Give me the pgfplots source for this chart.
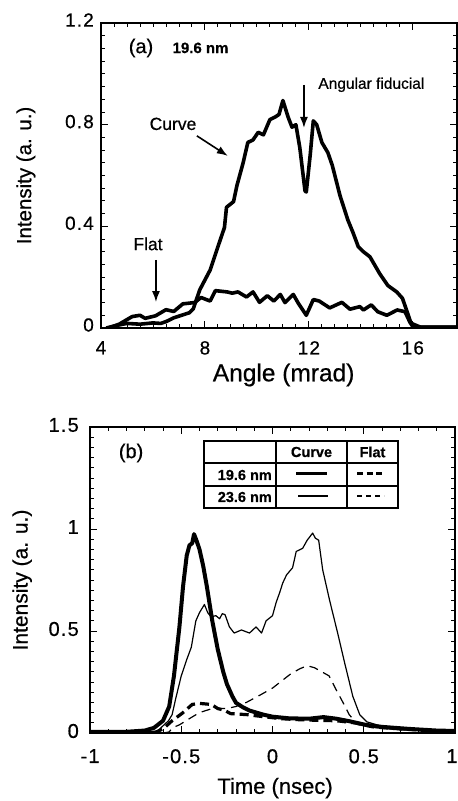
\documentclass[border=0pt]{standalone}
\usepackage{fontspec}
\setmainfont{Liberation Sans}[FakeBold=0.6]
\newfontfamily\widesans{Liberation Sans}[LetterSpace=6,FakeBold=0.6]
\newcommand\ta{\widesans\fontsize{19}{22}\selectfont}
\newcommand\tb{\widesans\fontsize{20}{24}\selectfont}
\usepackage{pgfplots}
\pgfplotsset{compat=1.18}
\usetikzlibrary{arrows.meta}

\pgfplotstableread{
x y
4.2 0.0
4.6 0.01
5.0 0.018
5.5 0.015
6.0 0.02
6.3 0.018
6.5 0.025
6.8 0.04
7.1 0.05
7.4 0.06
7.55 0.075
7.8 0.15
8.2 0.228
8.5 0.32
8.75 0.395
8.83 0.475
9.1 0.497
9.23 0.56
9.47 0.65
9.65 0.73
9.85 0.74
10.05 0.77
10.25 0.76
10.5 0.82
10.7 0.83
10.85 0.84
11.0 0.895
11.2 0.83
11.35 0.79
11.5 0.80
11.65 0.71
11.85 0.54
11.9 0.535
12.05 0.68
12.17 0.815
12.3 0.80
12.5 0.73
12.73 0.69
12.9 0.64
13.2 0.52
13.5 0.425
13.7 0.375
13.9 0.32
14.1 0.30
14.35 0.28
14.73 0.213
15.04 0.167
15.38 0.142
15.6 0.117
15.8 0.058
15.96 0.01
16.2 0.003
17.7 0.003
}\curveA

\pgfplotstableread{
x y
4.3 0.0
4.7 0.015
5.2 0.045
5.5 0.05
5.7 0.038
6.1 0.048
6.5 0.072
6.8 0.065
7.15 0.095
7.6 0.1
7.85 0.12
8.2 0.106
8.4 0.147
8.85 0.142
9.05 0.137
9.27 0.142
9.6 0.122
9.85 0.142
10.1 0.101
10.4 0.127
10.65 0.106
10.9 0.132
11.08 0.1
11.4 0.132
11.6 0.096
11.9 0.05
12.17 0.112
12.4 0.106
12.8 0.079
13.27 0.101
13.58 0.074
13.96 0.084
14.1 0.071
14.4 0.091
14.65 0.064
15.0 0.05
15.4 0.071
15.7 0.064
15.9 0.02
16.3 0.003
17.7 0.003
}\flatA

\pgfplotstableread{
x y
-1 0.005
-0.8 0.006
-0.7 0.012
-0.65 0.025
-0.6 0.06
-0.566 0.13
-0.54 0.28
-0.51 0.52
-0.49 0.72
-0.47 0.87
-0.455 0.92
-0.44 0.93
-0.43 0.975
-0.415 0.94
-0.40 0.90
-0.38 0.82
-0.36 0.72
-0.33 0.55
-0.30 0.41
-0.27 0.30
-0.25 0.24
-0.22 0.18
-0.2 0.148
-0.16 0.125
-0.126 0.11
-0.05 0.09
0.0 0.08
0.09 0.072
0.2 0.07
0.28 0.078
0.35 0.07
0.42 0.058
0.51 0.04
0.6 0.03
0.75 0.02
0.9 0.012
1.0 0.01
}\curveBa

\pgfplotstableread{
x y
-0.65 0.0
-0.6 0.02
-0.55 0.06
-0.49 0.10
-0.44 0.14
-0.40 0.145
-0.335 0.14
-0.30 0.12
-0.26 0.11
-0.23 0.095
-0.14 0.09
-0.05 0.08
0.05 0.07
0.15 0.065
0.25 0.062
0.35 0.06
0.45 0.05
0.55 0.03
0.7 0.02
0.85 0.012
1.0 0.01
}\flatBa

\pgfplotstableread{
x y
-1 0.003
-0.7 0.005
-0.63 0.01
-0.6 0.035
-0.57 0.06
-0.55 0.09
-0.53 0.17
-0.5 0.28
-0.47 0.36
-0.445 0.42
-0.42 0.55
-0.40 0.59
-0.373 0.63
-0.355 0.59
-0.337 0.57
-0.31 0.575
-0.29 0.56
-0.275 0.585
-0.26 0.58
-0.236 0.52
-0.21 0.49
-0.17 0.505
-0.126 0.49
-0.09 0.52
-0.06 0.49
-0.035 0.55
0.0 0.575
0.02 0.64
0.04 0.69
0.056 0.735
0.077 0.775
0.11 0.81
0.13 0.89
0.165 0.905
0.19 0.945
0.22 0.98
0.235 0.955
0.253 0.945
0.275 0.80
0.313 0.65
0.357 0.49
0.395 0.345
0.44 0.18
0.478 0.09
0.516 0.055
0.59 0.035
0.75 0.02
1.0 0.01
}\curveBb

\pgfplotstableread{
x y
-0.6 0.0
-0.566 0.005
-0.55 0.025
-0.51 0.04
-0.456 0.07
-0.40 0.10
-0.33 0.12
-0.25 0.12
-0.2 0.13
-0.143 0.15
-0.07 0.185
0.0 0.22
0.05 0.255
0.1 0.29
0.15 0.315
0.19 0.33
0.23 0.32
0.27 0.3
0.31 0.28
0.35 0.21
0.395 0.135
0.42 0.09
0.46 0.05
0.52 0.03
0.7 0.015
1.0 0.01
}\flatBb

\pgfplotsset{
  myaxis/.style={
    scale only axis,
    axis line style={line width=1.4pt},
    tick style={line width=0.9pt, black},
    major tick length=7pt,
    minor tick length=4pt,
    tick align=inside,
    xtick pos=both, ytick pos=both,
    clip=true,
  }
}

\begin{document}
\begin{tikzpicture}
\path[use as bounding box] (0pt,0pt) rectangle (458pt,801pt);

% ---------- Panel (a)
\begin{axis}[myaxis,
  at={(101pt,473pt)}, anchor=south west,
  width=356pt, height=305pt,
  xmin=4, xmax=17.7, ymin=0, ymax=1.2,
  xtick={4,8,12,16}, ytick={0,0.4,0.8,1.2},
  xticklabels={{\ta 4},{\ta 8},{\ta 12},{\ta 16}},
  yticklabels={{\ta 0},{\ta 0.4},{\ta 0.8},{\ta 1.2}},
  minor x tick num=7, minor y tick num=7,
  xticklabel style={anchor=north, inner sep=0pt, yshift=-13pt},
  yticklabel style={anchor=east, inner sep=0pt, xshift=-7pt, yshift=3pt},
  xlabel={Angle (mrad)},
  ylabel={Intensity (a. u.)},
  xlabel style={font=\fontsize{24.5}{28}\selectfont, at={(axis description cs:0.513,-0.154)}, anchor=center},
  ylabel style={font=\fontsize{20.5}{24}\selectfont, at={(axis description cs:-0.211,0.5)}, anchor=center},
]
\addplot[line width=3.6pt, line join=round] table[x=x,y=y] {\curveA};
\addplot[line width=3.6pt, line join=round] table[x=x,y=y] {\flatA};
\node[font=\fontsize{20}{24}\selectfont] at (axis cs:5.54,1.102) {(a)};
\node[font=\bfseries\fontsize{15}{18}\selectfont, anchor=west] at (axis cs:6.62,1.102) {19.6 nm};
\node[font=\fontsize{17.5}{20}\selectfont] at (axis cs:6.77,0.803) {Curve};
\node[font=\fontsize{17.5}{20}\selectfont] at (axis cs:5.81,0.331) {Flat};
\node[font=\fontsize{15.5}{18}\selectfont, anchor=west] at (axis cs:12.23,0.957) {Angular fiducial};
\draw[line width=1.6pt, -{Latex[length=11pt,width=8pt]}] (axis cs:7.69,0.756) -- (axis cs:8.88,0.677);
\draw[line width=1.6pt, -{Latex[length=11pt,width=8pt]}] (axis cs:6.115,0.268) -- (axis cs:6.115,0.102);
\draw[line width=1.6pt, -{Latex[length=11pt,width=8pt]}] (axis cs:11.81,0.957) -- (axis cs:11.81,0.787);
\end{axis}

% ---------- Panel (b)
\begin{axis}[myaxis,
  at={(90pt,68pt)}, anchor=south west,
  width=365pt, height=306pt,
  xmin=-1, xmax=1, ymin=0, ymax=1.5,
  xtick={-1,-0.5,0,0.5,1}, ytick={0,0.5,1,1.5},
  xticklabels={{\tb -1},{\tb -0.5},{\tb 0},{\tb 0.5},{\tb\hspace*{-6pt}1}},
  yticklabels={{\tb 0},{\tb 0.5},{\tb 1},{\tb 1.5}},
  minor x tick num=4, minor y tick num=9,
  xticklabel style={anchor=north, inner sep=0pt, yshift=-16pt},
  yticklabel style={anchor=east, inner sep=0pt, xshift=-11pt, yshift=2pt},
  xlabel={Time (nsec)},
  ylabel={Intensity (a. u.)},
  xlabel style={font=\fontsize{22}{26}\selectfont, at={(axis description cs:0.507,-0.18)}, anchor=center},
  ylabel style={font=\fontsize{21}{24}\selectfont, at={(axis description cs:-0.186,0.5)}, anchor=center},
]
\addplot[line width=1.2pt, line join=round] table[x=x,y=y] {\curveBb};
\addplot[line width=1.2pt, dash pattern=on 9pt off 6pt] table[x=x,y=y] {\flatBb};
\addplot[line width=3.2pt, dash pattern=on 9pt off 5pt] table[x=x,y=y] {\flatBa};
\addplot[line width=4pt, line join=round] table[x=x,y=y] {\curveBa};
\node[font=\fontsize{20}{24}\selectfont] at (axis cs:-0.775,1.373) {(b)};
\end{axis}

% ---------- table legend in panel (b)
\fill[white] (204pt,293pt) rectangle (398pt,360pt);
\draw[line width=1.5pt] (347pt,293pt) -- (347pt,360pt);
\draw[line width=1.5pt] (204pt,315pt) -- (398pt,315pt);
\draw[line width=2.5pt] (276pt,293pt) -- (276pt,360pt);
\draw[line width=2.5pt] (204pt,338pt) -- (398pt,338pt);
\draw[line width=2.5pt] (204pt,293pt) rectangle (398pt,360pt);
\node[font=\bfseries\fontsize{14.5}{17}\selectfont] at (311.5pt,349pt) {Curve};
\node[font=\bfseries\fontsize{14.5}{17}\selectfont] at (372.5pt,349pt) {Flat};
\node[font=\bfseries\fontsize{14.5}{17}\selectfont, anchor=east, inner sep=0pt] at (272pt,326pt) {19.6 nm};
\node[font=\bfseries\fontsize{14.5}{17}\selectfont, anchor=east, inner sep=0pt] at (272pt,304pt) {23.6 nm};
\draw[line width=3pt] (296pt,327pt) -- (327pt,327pt);
\draw[line width=3pt, dash pattern=on 6pt off 3.5pt] (357pt,327pt) -- (385pt,327pt);
\draw[line width=1.2pt] (298pt,305pt) -- (328pt,305pt);
\draw[line width=1.2pt, dash pattern=on 5pt off 4pt] (357pt,305pt) -- (384pt,305pt);
\end{tikzpicture}
\end{document}
